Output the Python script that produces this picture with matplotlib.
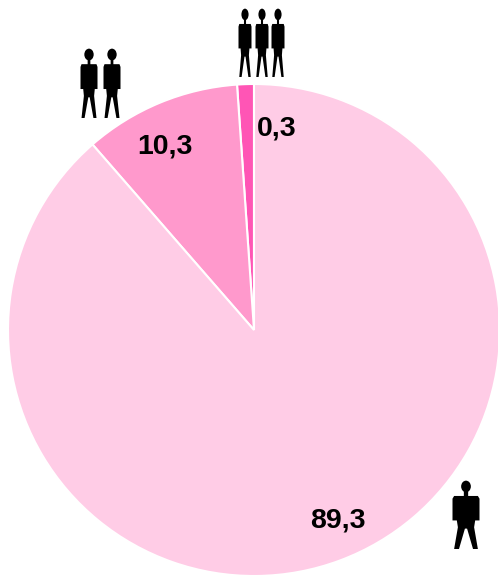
import matplotlib
matplotlib.use("Agg")
import matplotlib.pyplot as plt
from matplotlib.patches import Ellipse, Polygon

plt.rcParams["font.family"] = ["Liberation Sans", "DejaVu Sans"]

# printed labels do not add up with the drawn wedges, so keep both
SHARES = [1.1, 10.3, 88.6]
LABELS = ["0,3", "10,3", "89,3"]
COLORS = ["#FF55B5", "#FF99CC", "#FFCCE6"]

W, H = 498, 575
PIE_CX, PIE_CY, PIE_R = 254, 330, 246

# person outline, unit box: x -0.5..0.5, y 0 (top)..1 (feet)
BODY = [(-0.08, 0.12), (0.08, 0.12), (0.08, 0.22), (0.44, 0.22), (0.5, 0.26), (0.5, 0.58),
        (0.34, 0.58), (0.3, 0.68), (0.44, 1.0), (0.26, 1.0), (0.04, 0.7),
        (-0.04, 0.7), (-0.26, 1.0), (-0.44, 1.0), (-0.3, 0.68), (-0.34, 0.58),
        (-0.5, 0.58), (-0.5, 0.26), (-0.44, 0.22), (-0.08, 0.22)]

# (centre x, top y, width, height) in image pixels
PEOPLE = [(89, 49, 17, 69), (112, 49, 17, 69),
          (245, 9, 13, 68), (262, 9, 13, 68), (278, 9, 13, 68),
          (466, 481, 27, 68)]

LABEL_POS = [(277, 128), (165, 146), (338, 521)]


def draw_person(ax, cx, top, width, height):
    pts = [(cx + x * width, -(top + y * height)) for x, y in BODY]
    ax.add_patch(Polygon(pts, closed=True, fc="black", ec="none", zorder=3))
    head_w = 0.36 * width if width > 20 else 0.55 * width
    ax.add_patch(Ellipse((cx, -(top + 0.08 * height)), head_w, 0.17 * height,
                         fc="black", ec="none", zorder=3))


fig = plt.figure(figsize=(W / 100, H / 100), dpi=100)
ax = fig.add_axes([0, 0, 1, 1])

ax.pie(SHARES, colors=COLORS, startangle=90, center=(PIE_CX, -PIE_CY), radius=PIE_R,
       wedgeprops={"edgecolor": "white", "linewidth": 1.5})

for txt, (x, y) in zip(LABELS, LABEL_POS):
    ax.text(x, -y, txt, ha="center", va="center", fontsize=20.5, fontweight="bold", color="black")

for person in PEOPLE:
    draw_person(ax, *person)

ax.set_xlim(0, W)
ax.set_ylim(-H, 0)
ax.axis("off")

fig.savefig("out.png", dpi=100)
